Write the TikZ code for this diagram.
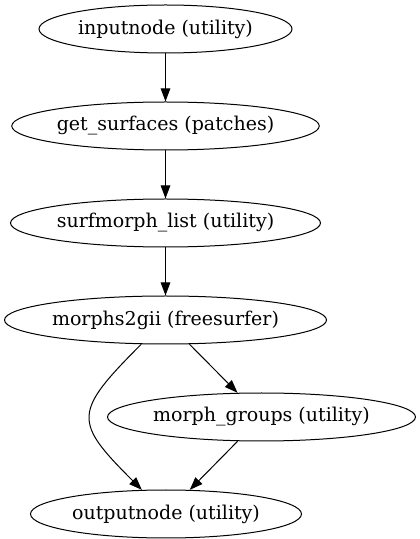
\documentclass[tikz,border=0pt]{standalone}
\usepackage{fontspec}
\setmainfont{DejaVu Serif}
\usetikzlibrary{positioning}
\usetikzlibrary{arrows.meta}
\usetikzlibrary{shapes.geometric}
\tikzset {
  node distance={48pt},
  % workflow node, drawn as an ellipse
  main/.style = {draw, ellipse, inner sep=0pt, minimum height=48pt, line width=1pt,
    font=\fontsize{19}{22}\selectfont},
  % connection between two nodes
  flow/.style = {-{Triangle[length=13pt, width=9.5pt]}, line width=1pt},
}
\begin{document}
\begin{tikzpicture}[x=1pt, y=1pt]
      \useasboundingbox (0,0) rectangle (420,539);

      \node[main, minimum width=253pt] (in) at (165.5,510) {inputnode (utility)};
      \node[main, minimum width=307pt] (surf) [below=of in] {get\_surfaces (patches)};
      \node[main, minimum width=310pt] (list) [below=of surf] {surfmorph\_list (utility)};
      \node[main, minimum width=322pt] (m2g) [below=of list] {morphs2gii (freesurfer)};
      \node[main, minimum width=308pt] (groups) [below=of m2g, xshift=96pt] {morph\_groups (utility)};
      \node[main, minimum width=271pt] (out) [below=of groups, xshift=-95.5pt] {outputnode (utility)};

      \draw [flow] (in) -- (surf);
      \draw [flow] (surf) -- (list);
      \draw [flow] (list) -- (m2g);
      \draw [flow] (m2g) -- (groups);
      \draw [flow] (m2g) to[out=225, in=135, looseness=1.7] (out);
      \draw [flow] (groups) -- (out);
    \end{tikzpicture}
\end{document}
